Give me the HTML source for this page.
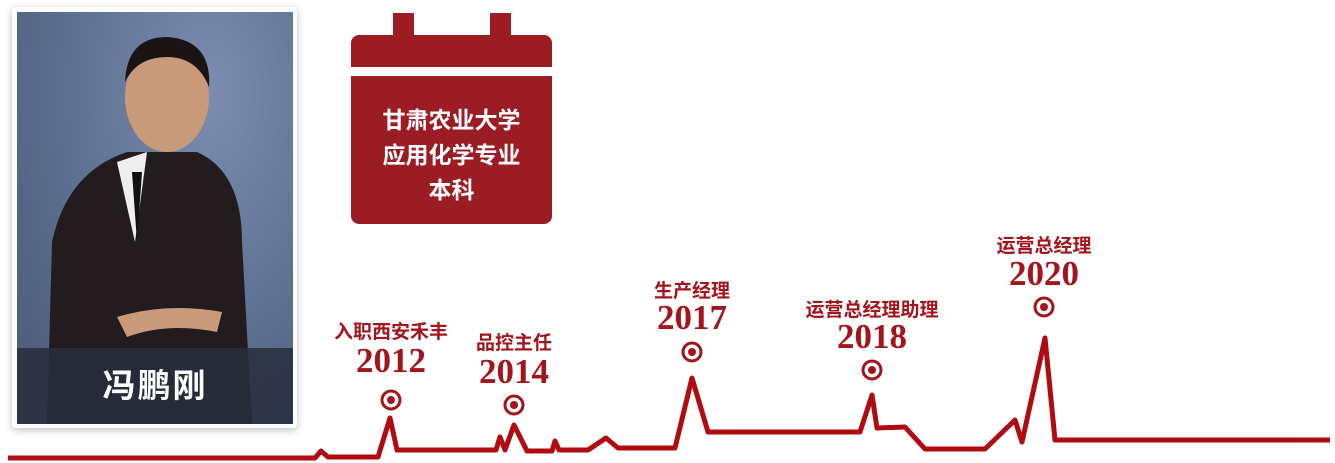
<!DOCTYPE html>
<html><head><meta charset="utf-8"><style>
body{margin:0;width:1335px;height:463px;background:#fff;position:relative;overflow:hidden;font-family:"Liberation Sans","Noto Sans CJK SC",sans-serif}
.card{position:absolute;left:12px;top:7px;width:285px;height:421px;background:#fff;box-shadow:0 2px 8px rgba(0,0,0,.25);border-radius:4px}
.photo{position:absolute;left:17px;top:12px;width:276px;height:412px;background:radial-gradient(ellipse at 70% 20%,#7b8db0,#5a6c8c 60%,#4a5875);overflow:hidden}
.band{position:absolute;left:0;top:336px;width:276px;height:76px;background:rgba(40,45,60,.85);color:#fff;font-size:33px;font-weight:bold;text-align:center;line-height:76px;letter-spacing:2px}
.cal{position:absolute;background:#9b1c22}
.ct{position:absolute;left:351px;top:103px;width:201px;text-align:center;color:#fff;font-weight:bold;font-size:23px;line-height:35px}
.lb{position:absolute;color:#a3141b;font-weight:bold;font-size:19px;text-align:center;white-space:nowrap}
.yr{position:absolute;color:#a3141b;font-weight:bold;font-size:35px;font-family:"Liberation Serif",serif;text-align:center}
</style></head><body>
<div class="card"></div>
<div class="photo">
<svg width="276" height="412" style="position:absolute;left:0;top:0">
<path d="M30 412 L35 230 Q50 160 110 140 L180 140 Q225 160 225 230 L235 412 Z" fill="#221c1e"/>
<path d="M100 150 L130 140 L118 230 Z" fill="#eee"/>
<path d="M115 160 L125 160 L120 230 Z" fill="#111"/>
<ellipse cx="150" cy="85" rx="42" ry="55" fill="#c99a7a"/>
<path d="M108 70 Q110 25 150 25 Q195 28 192 75 Q180 45 150 45 Q120 45 108 70Z" fill="#1a1414"/>
<path d="M100 305 Q150 290 205 300 L200 320 Q150 310 110 325Z" fill="#c99a7a"/>
</svg>
<div class="band">冯鹏刚</div>
</div>
<div class="cal" style="left:393px;top:13px;width:21px;height:24px"></div>
<div class="cal" style="left:490px;top:13px;width:21px;height:24px"></div>
<div class="cal" style="left:351px;top:35px;width:201px;height:32px;border-radius:8px 8px 0 0"></div>
<div class="cal" style="left:351px;top:76px;width:201px;height:148px;border-radius:0 0 8px 8px"></div>
<div class="ct">甘肃农业大学<br>应用化学专业<br>本科</div>

<svg width="1335" height="463" style="position:absolute;left:0;top:0">
<polyline fill="none" stroke="#b00b12" stroke-width="5" stroke-linejoin="round" points="8,458 315,458 321,451 328,457 378,457 390,418 397,450 496,450 500,437 505,450 514,425 527,451 552,451 555,441 559,450 588,450 606,438 618,448 675,448 692,378 708,432 860,432 872,395 877,428 905,427 925,449 985,449 1015,420 1022,442 1045,338 1055,440 1330,440"/>
<g fill="none" stroke="#a3141b" stroke-width="3">
<circle cx="391" cy="400" r="9"/><circle cx="514" cy="405" r="9"/><circle cx="692" cy="352" r="9"/><circle cx="872" cy="370" r="9"/><circle cx="1044" cy="307" r="9"/>
</g>
<g fill="#a3141b">
<circle cx="391" cy="400" r="4"/><circle cx="514" cy="405" r="4"/><circle cx="692" cy="352" r="4"/><circle cx="872" cy="370" r="4"/><circle cx="1044" cy="307" r="4"/>
</g>
</svg>
<div class="lb" style="left:321px;top:317px;width:140px">入职西安禾丰</div>
<div class="yr" style="left:331px;top:341px;width:120px">2012</div>
<div class="lb" style="left:444px;top:328px;width:140px">品控主任</div>
<div class="yr" style="left:454px;top:352px;width:120px">2014</div>
<div class="lb" style="left:622px;top:276px;width:140px">生产经理</div>
<div class="yr" style="left:632px;top:298px;width:120px">2017</div>
<div class="lb" style="left:792px;top:295px;width:160px">运营总经理助理</div>
<div class="yr" style="left:812px;top:317px;width:120px">2018</div>
<div class="lb" style="left:974px;top:231px;width:140px">运营总经理</div>
<div class="yr" style="left:984px;top:254px;width:120px">2020</div>
</body></html>
